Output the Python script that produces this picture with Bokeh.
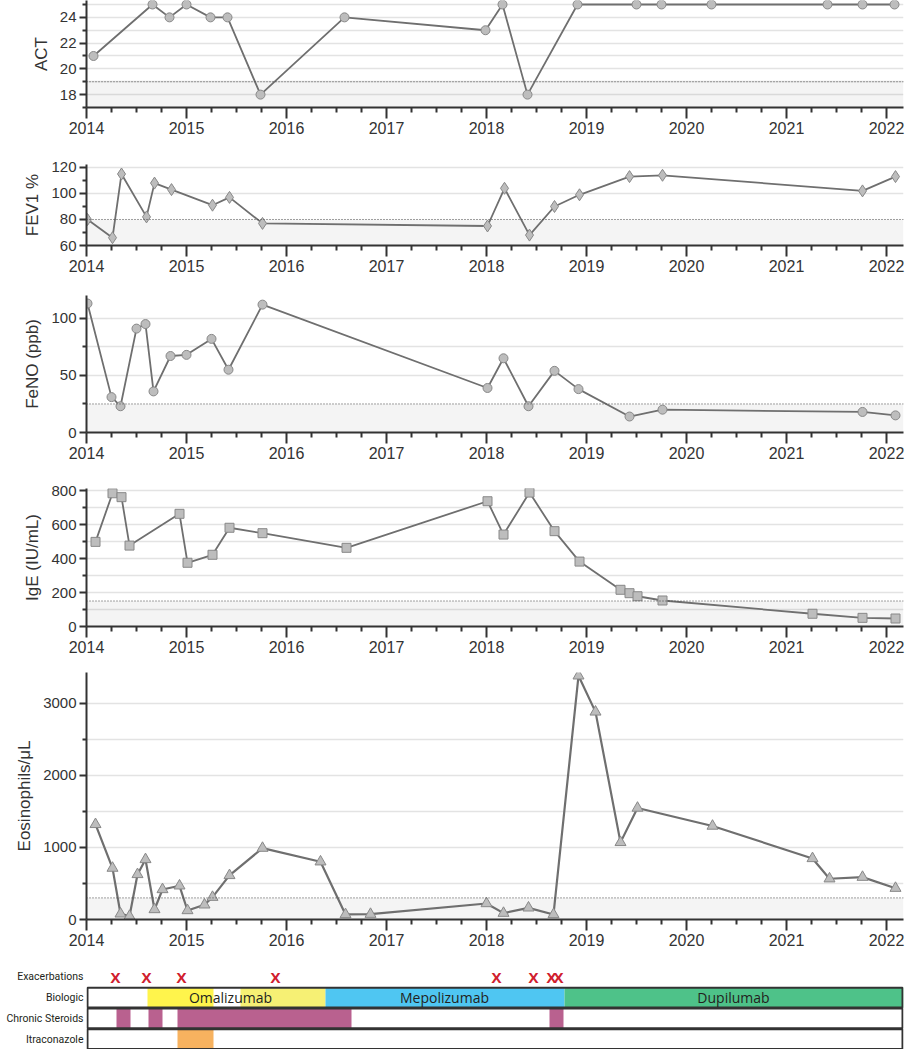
from bokeh.plotting import figure
from bokeh.layouts import column
from bokeh.models import Range1d, FixedTicker, BoxAnnotation, Span, FactorRange
from bokeh.embed import file_html
from bokeh.resources import INLINE
from bokeh.core.properties import value

# ---------------- data ----------------
act_x = [2014.07, 2014.66, 2014.83, 2015.0, 2015.24, 2015.41, 2015.74, 2016.58, 2017.99,
         2018.16, 2018.41, 2018.91, 2019.5, 2019.75, 2020.25, 2021.41, 2021.76, 2022.08]
act_y = [21, 25, 24, 25, 24, 24, 18, 24, 23, 25, 18, 25, 25, 25, 25, 25, 25, 25]

fev_x = [2014.01, 2014.26, 2014.35, 2014.6, 2014.68, 2014.85, 2015.26, 2015.43, 2015.76,
         2018.01, 2018.18, 2018.43, 2018.68, 2018.93, 2019.43, 2019.76, 2021.76, 2022.09]
fev_y = [80, 66, 115, 82, 108, 103, 91, 97, 77, 75, 104, 68, 90, 99, 113, 114, 102, 113]

feno_x = [2014.01, 2014.25, 2014.34, 2014.5, 2014.59, 2014.67, 2014.84, 2015.0, 2015.25,
          2015.42, 2015.76, 2018.01, 2018.17, 2018.42, 2018.68, 2018.92, 2019.43, 2019.76,
          2021.76, 2022.09]
feno_y = [113, 31, 23, 91, 95, 36, 67, 68, 82, 55, 112, 39, 65, 23, 54, 38, 14, 20, 18, 15]

ige_x = [2014.09, 2014.26, 2014.35, 2014.43, 2014.93, 2015.01, 2015.26, 2015.43, 2015.76,
         2016.6, 2018.01, 2018.17, 2018.43, 2018.68, 2018.93, 2019.34, 2019.43, 2019.51,
         2019.76, 2021.26, 2021.76, 2022.09]
ige_y = [498, 784, 761, 476, 663, 375, 422, 581, 549, 463, 737, 541, 788, 561, 382, 216,
         196, 178, 153, 75, 51, 47]

eos_x = [2014.09, 2014.26, 2014.34, 2014.43, 2014.51, 2014.59, 2014.68, 2014.76, 2014.93,
         2015.01, 2015.18, 2015.26, 2015.43, 2015.76, 2016.34, 2016.59, 2016.84, 2018.0,
         2018.17, 2018.42, 2018.67, 2018.92, 2019.09, 2019.34, 2019.51, 2020.26, 2021.26,
         2021.43, 2021.76, 2022.09]
eos_y = [1321, 714, 79, 46, 626, 834, 139, 417, 468, 125, 204, 310, 612, 991, 802, 70, 74,
         222, 88, 162, 70, 3384, 2883, 1071, 1548, 1298, 848, 566, 588, 435]

exac_x = [2014.29, 2014.6, 2014.95, 2015.89, 2018.1, 2018.47, 2018.65, 2018.72]

bio_start = [2014.61, 2015.54, 2016.39, 2018.78]
bio_end = [2015.27, 2016.39, 2018.78, 2022.17]
bio_colors = ["#fff44c", "#f6f074", "#4fc6f2", "#4ec289"]
bio_names = ["Omalizumab", "Mepolizumab", "Dupilumab"]
bio_label_x = [2015.44, 2017.58, 2020.47]

ster_start = [2014.30, 2014.62, 2014.91, 2018.63]
ster_end = [2014.44, 2014.76, 2016.65, 2018.77]

itra_start = [2014.91]
itra_end = [2015.27]

rows = ["Itraconazole", "Chronic Steroids", "Biologic", "Exacerbations"]

years = list(range(2014, 2023))
quarters = [y + q for y in range(2014, 2022) for q in (0.25, 0.5, 0.75)]

# ---------------- style ----------------
X_START, X_END = 2014.0, 2022.17
AX = "#333333"
FONT = "Liberation Sans"
LINE = "#6f6f6f"
MFILL = "#bdbdbd"
MLINE = "#888888"
W = 906
LEFT = 86
RIGHT = 3

xr = Range1d(X_START, X_END)


def panel(height, top, bottom, ylo, yhi, major, minor, grid, thr, label):
    p = figure(width=W, height=height, x_range=xr, y_range=Range1d(ylo, yhi),
               output_backend="svg", toolbar_location=None,
               min_border_left=LEFT, min_border_right=RIGHT,
               min_border_top=top, min_border_bottom=bottom)
    p.outline_line_color = None
    p.xgrid.visible = False
    p.ygrid.ticker = FixedTicker(ticks=grid)
    p.ygrid.grid_line_color = "#e3e3e3"
    p.ygrid.grid_line_width = 1.5
    p.xaxis.ticker = FixedTicker(ticks=years, minor_ticks=quarters)
    p.yaxis.ticker = FixedTicker(ticks=major, minor_ticks=minor)
    for ax in (p.xaxis, p.yaxis):
        ax.axis_line_color = AX
        ax.axis_line_width = 2
        ax.major_tick_line_color = AX
        ax.major_tick_line_width = 2
        ax.minor_tick_line_color = AX
        ax.minor_tick_line_width = 2
        ax.major_tick_in = 0
        ax.minor_tick_in = 0
        ax.major_label_text_font = FONT
        ax.major_label_text_color = AX
    p.xaxis.major_tick_out = 11
    p.xaxis.minor_tick_out = 5
    p.xaxis.major_label_text_font_size = "16px"
    p.xaxis.major_label_standoff = 3
    p.yaxis.major_tick_out = 7
    p.yaxis.minor_tick_out = 4
    p.yaxis.major_label_text_font_size = "15px"
    p.yaxis.major_label_standoff = 3
    p.yaxis.axis_label = label
    p.yaxis.axis_label_text_font = FONT
    p.yaxis.axis_label_text_font_size = "17px"
    p.yaxis.axis_label_text_font_style = "normal"
    p.yaxis.axis_label_text_color = AX
    p.yaxis.axis_label_standoff = 6
    p.add_layout(BoxAnnotation(top=thr, fill_color="black", fill_alpha=0.045,
                               line_color=None, level="underlay"))
    p.add_layout(Span(location=thr, dimension="width", line_color="#444444",
                      line_width=1, line_dash="1 2"))
    return p


p1 = panel(154, 0, 47, 17, 25.31, [18, 20, 22, 24], [17, 19, 21, 23, 25],
           [18, 19, 20, 21, 22, 23, 24, 25], 19, "ACT")
p1.line(act_x, act_y, line_color=LINE, line_width=1.8)
p1.scatter(act_x, act_y, marker="circle", size=9, fill_color=MFILL, line_color=MLINE)

p2 = panel(131, 10, 40, 60, 122.3, [60, 80, 100, 120], [70, 90, 110], [100, 120], 80, "FEV1 %")
p2.line(fev_x, fev_y, line_color=LINE, line_width=1.8)
p2.scatter(fev_x, fev_y, marker="diamond", size=12, fill_color=MFILL, line_color=MLINE)

p3 = panel(193, 10, 46, 0, 120, [0, 50, 100], [25, 75], [50, 75, 100], 25, "FeNO (ppb)")
p3.line(feno_x, feno_y, line_color=LINE, line_width=1.8)
p3.scatter(feno_x, feno_y, marker="circle", size=9, fill_color=MFILL, line_color=MLINE)

p4 = panel(188, 10, 40, 0, 812, [0, 200, 400, 600, 800], [100, 300, 500, 700],
           [100, 200, 300, 400, 500, 600, 700, 800], 150, "IgE (IU/mL)")
p4.line(ige_x, ige_y, line_color=LINE, line_width=1.8)
p4.scatter(ige_x, ige_y, marker="square", size=9, fill_color=MFILL, line_color=MLINE)

p5 = panel(300, 6, 47, 0, 3430, [0, 1000, 2000, 3000], [500, 1500, 2500],
           [500, 1000, 1500, 2000, 2500, 3000], 300, "Eosinophils/\u03bcL")
p5.line(eos_x, eos_y, line_color=LINE, line_width=2.2)
p5.scatter(eos_x, eos_y, marker="triangle", size=11, fill_color=MFILL, line_color=MLINE)

# ---------------- timeline ----------------
t = figure(width=W, height=83, x_range=xr, y_range=FactorRange(factors=rows),
           output_backend="svg", toolbar_location=None,
           min_border_left=LEFT, min_border_right=RIGHT,
           min_border_top=0, min_border_bottom=0)
t.outline_line_color = None
t.grid.visible = False
t.xaxis.visible = False
t.yaxis.axis_line_color = None
t.yaxis.major_tick_line_color = None
t.yaxis.minor_tick_line_color = None
t.yaxis.major_tick_out = 0
t.yaxis.minor_tick_out = 0
t.yaxis.major_label_text_font = "Roboto"
t.yaxis.major_label_text_font_size = "10.5px"
t.yaxis.major_label_text_color = "#231f20"
t.yaxis.major_label_standoff = 3

t.hbar(y=["Biologic"] * len(bio_start), left=bio_start, right=bio_end, height=1,
       fill_color=bio_colors, line_color=None)
t.hbar(y=["Chronic Steroids"] * len(ster_start), left=ster_start, right=ster_end, height=1,
       fill_color="#b9618f", line_color=None)
t.hbar(y=["Itraconazole"] * len(itra_start), left=itra_start, right=itra_end, height=1,
       fill_color="#f7b25f", line_color=None)
t.hbar(y=rows[:3], left=X_START + 0.01, right=X_END - 0.01, height=0.95,
       fill_color=None, line_color=AX, line_width=2)
t.text(x=exac_x, y=["Exacerbations"] * len(exac_x), text=["X"] * len(exac_x),
       text_color="#d0202e", text_font=value("Open Sans"), text_font_style="bold",
       text_font_size="15px", text_align="center", text_baseline="middle")
t.text(x=bio_label_x, y=["Biologic"] * len(bio_names), text=bio_names,
       text_color="#231f20", text_font=value("Open Sans"), text_font_size="14px",
       text_align="center", text_baseline="middle")

layout = column(p1, p2, p3, p4, p5, t, spacing=0)
open("out.html", "w").write(file_html(layout, INLINE))
